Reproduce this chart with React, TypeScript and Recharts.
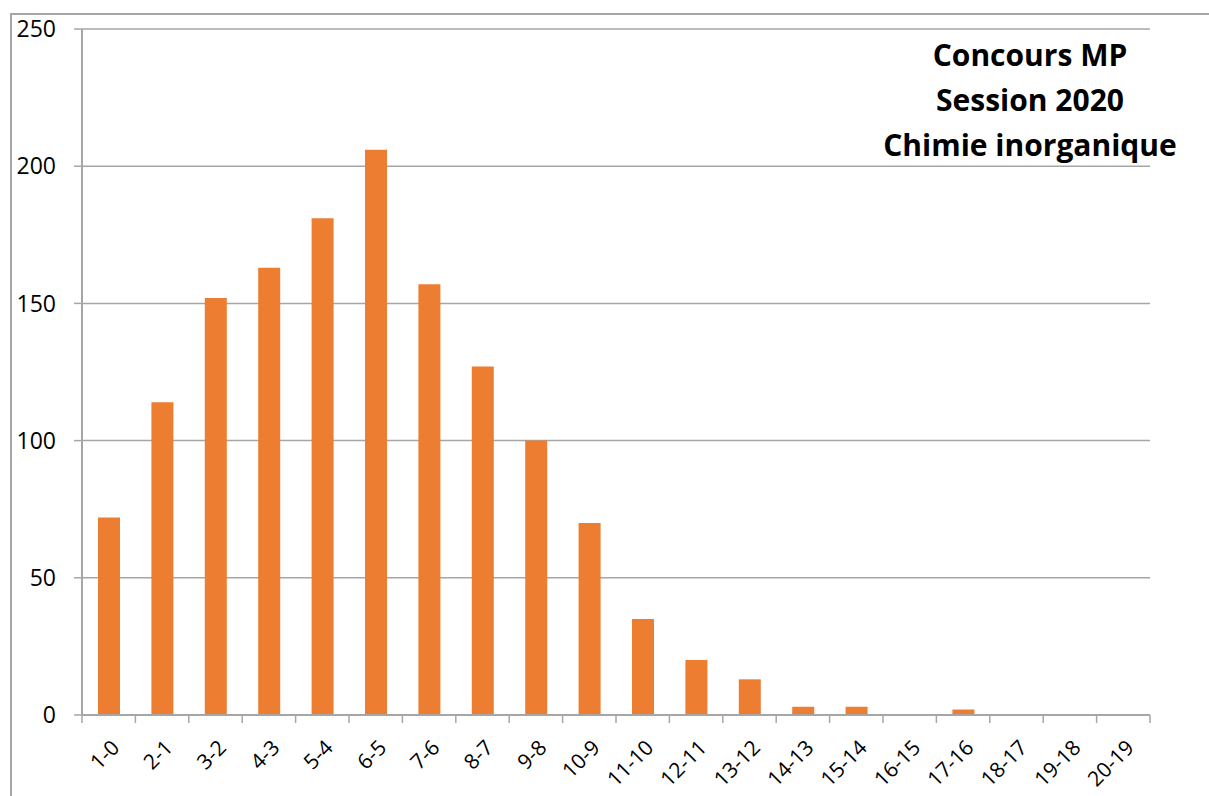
import React from 'react';
import { BarChart, Bar, XAxis, YAxis, CartesianGrid } from 'recharts';

const CATEGORIES = ['1-0', '2-1', '3-2', '4-3', '5-4', '6-5', '7-6', '8-7', '9-8', '10-9', '11-10', '12-11', '13-12', '14-13', '15-14', '16-15', '17-16', '18-17', '19-18', '20-19'];
const COUNTS = [72, 114, 152, 163, 181, 206, 157, 127, 100, 70, 35, 20, 13, 3, 3, 0, 2, 0, 0, 0];
const Y_TICKS = [0, 50, 100, 150, 200, 250];
const TITLE_LINES = ['Concours MP', 'Session 2020', 'Chimie inorganique'];

const data = CATEGORIES.map((name, i) => ({ name, value: COUNTS[i] }));

const W = 1209;
const H = 796;
const PLOT_LEFT = 82;
const PLOT_RIGHT = 1150;
const GRID = '#a6a6a6';
const FONT = '"Open Sans", "Liberation Sans", sans-serif';
const HALF_BAND = (PLOT_RIGHT - PLOT_LEFT) / CATEGORIES.length / 2;

// category labels sit at band centres, tick marks at band edges (Excel style)
const XTick = (props: any) => {
  const { x, y, payload, index } = props;
  const isLast = index === CATEGORIES.length - 1;
  const ax = x + 12;
  const ay = y + 26;
  return (
    <g>
      <line x1={x - HALF_BAND} x2={x - HALF_BAND} y1={y - 8} y2={y} stroke={GRID} strokeWidth={1.5} />
      {isLast && <line x1={x + HALF_BAND} x2={x + HALF_BAND} y1={y - 8} y2={y} stroke={GRID} strokeWidth={1.5} />}
      <text
        x={ax}
        y={ay}
        textAnchor="end"
        transform={`rotate(-45, ${ax}, ${ay})`}
        fontSize={21}
        fontFamily={FONT}
        fill="#000"
      >
        {payload.value}
      </text>
    </g>
  );
};

export default function App() {
  return (
    <div style={{ position: 'absolute', left: 0, top: 0, width: W, height: H, background: '#fff', overflow: 'hidden' }}>
      <div style={{ position: 'absolute', left: 10, top: 13, right: 0, bottom: 0, borderLeft: `2px solid ${GRID}`, borderTop: `2px solid ${GRID}` }} />
      <BarChart
        width={W}
        height={H}
        data={data}
        margin={{ top: 29, right: W - PLOT_RIGHT, left: 0, bottom: 0 }}
        barSize={22}
      >
        <CartesianGrid vertical={false} stroke={GRID} strokeWidth={1.5} />
        <XAxis
          dataKey="name"
          height={81}
          interval={0}
          tickLine={false}
          axisLine={{ stroke: GRID, strokeWidth: 2 }}
          tick={<XTick />}
        />
        <YAxis
          width={PLOT_LEFT}
          domain={[0, 250]}
          ticks={Y_TICKS}
          tickSize={8}
          tickMargin={18}
          tickLine={{ stroke: GRID, strokeWidth: 1.5 }}
          axisLine={{ stroke: GRID, strokeWidth: 2 }}
          tick={{ fontSize: 23, fill: '#000', fontFamily: FONT }}
        />
        <Bar dataKey="value" fill="#ed7d31" isAnimationActive={false} />
      </BarChart>
      <div
        style={{
          position: 'absolute',
          left: 830,
          width: 400,
          top: 32,
          textAlign: 'center',
          fontFamily: FONT,
          fontWeight: 700,
          fontSize: 30,
          lineHeight: '45px',
          color: '#000',
        }}
      >
        {TITLE_LINES.map((t) => (
          <div key={t}>{t}</div>
        ))}
      </div>
    </div>
  );
}
